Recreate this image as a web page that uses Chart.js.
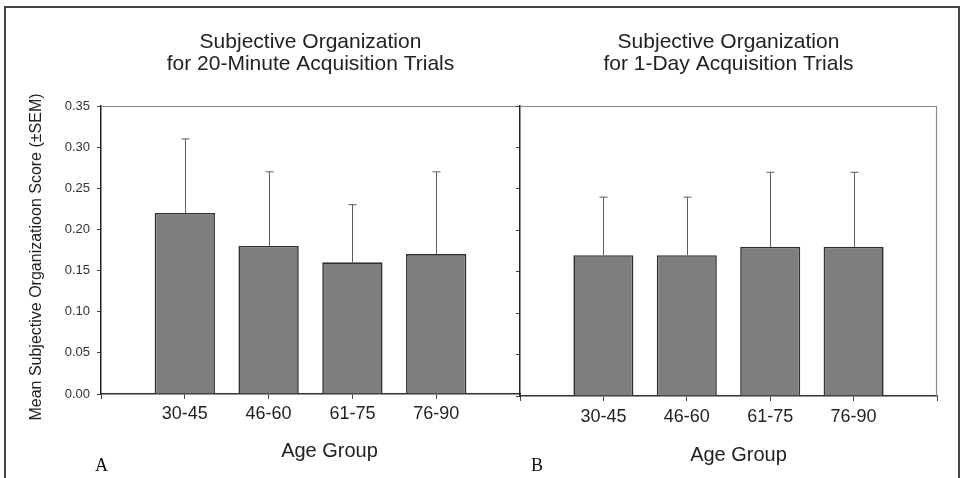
<!DOCTYPE html>
<html><head><meta charset="utf-8">
<script src="https://cdn.jsdelivr.net/npm/chart.js@4/dist/chart.umd.min.js"></script>
<style>
html,body{margin:0;padding:0;background:#fff;width:963px;height:478px;overflow:hidden}
#frame{position:absolute;left:4px;top:6px;width:952px;height:520px;border:2px solid #444;border-bottom:none}
.wrap{position:absolute;top:0;height:478px}
#wa{left:0;width:525px}
#wb{left:500px;width:445px}
.pl{position:absolute;font-family:"Liberation Serif","Times New Roman",serif;font-size:18px;color:#111;line-height:1}
</style></head><body>
<div id="frame"></div>
<div class="wrap" id="wa"><canvas id="ca" width="525" height="478"></canvas></div>
<div class="wrap" id="wb"><canvas id="cb" width="445" height="478"></canvas></div>
<div class="pl" style="left:95px;top:456px">A</div>
<div class="pl" style="left:531px;top:456px">B</div>
<script>
const ageGroups = ['30-45', '46-60', '61-75', '76-90'];
const mean20Min = [0.22, 0.18, 0.16, 0.17];
const sem20Min  = [0.09, 0.09, 0.07, 0.10];
const mean1Day  = [0.17, 0.17, 0.18, 0.18];
const sem1Day   = [0.07, 0.07, 0.09, 0.09];
const yTicks = [0, 0.05, 0.10, 0.15, 0.20, 0.25, 0.30, 0.35];
const titleA = ['Subjective Organization', 'for 20-Minute Acquisition Trials'];
const titleB = ['Subjective Organization', 'for 1-Day Acquisition Trials'];
const yTitle = 'Mean Subjective Organizatioon Score (\u00B1SEM)';
const xTitle = 'Age Group';

const FONT = '"Liberation Sans", Arial, Helvetica, sans-serif';
const pad = arr => [null, ...arr, null];

const errorBars = {
  id: 'errorBars',
  afterDatasetsDraw(chart) {
    const ctx = chart.ctx, ys = chart.scales.y;
    const ds = chart.data.datasets[0];
    const meta = chart.getDatasetMeta(0);
    ctx.save();
    ctx.strokeStyle = '#5c5c5c';
    ctx.lineWidth = 1;
    meta.data.forEach((bar, i) => {
      const m = ds.data[i], e = ds.errors[i];
      if (m == null || e == null) return;
      const x = Math.round(bar.x) + 0.5;
      const yTop = ys.getPixelForValue(m + e);
      ctx.beginPath();
      ctx.moveTo(x, bar.y);
      ctx.lineTo(x, yTop);
      ctx.moveTo(x - 4, yTop);
      ctx.lineTo(x + 4, yTop);
      ctx.stroke();
    });
    ctx.restore();
  }
};

const plotFrame = {
  id: 'plotFrame',
  afterDraw(chart, args, opts) {
    const {ctx, chartArea: a} = chart;
    ctx.save();
    ctx.strokeStyle = '#8a8a8a';
    ctx.lineWidth = 1.2;
    ctx.beginPath();
    ctx.moveTo(a.left, a.top + 0.5);
    ctx.lineTo(a.right, a.top + 0.5);
    if (opts.right) {
      ctx.moveTo(a.right - 0.5, a.top);
      ctx.lineTo(a.right - 0.5, a.bottom);
    }
    ctx.stroke();
    ctx.restore();
  }
};

const axisTitles = {
  id: 'axisTitles',
  afterDraw(chart, args, o) {
    const {ctx, chartArea: a} = chart;
    ctx.save();
    ctx.fillStyle = '#222';
    ctx.textAlign = 'center';
    ctx.textBaseline = 'middle';
    ctx.font = '20px ' + FONT;
    ctx.fillText(o.xText, (a.left + a.right) / 2 + o.xdx, o.xy);
    if (o.yText) {
      ctx.font = '16px ' + FONT;
      ctx.translate(o.yx, (a.top + a.bottom) / 2 + o.ydy);
      ctx.rotate(-Math.PI / 2);
      ctx.fillText(o.yText, 0, 0);
    }
    ctx.restore();
  }
};

function makeChart(id, title, means, sems, cfg) {
  return new Chart(document.getElementById(id), {
    type: 'bar',
    data: {
      labels: ['', ...ageGroups, ''],
      datasets: [{
        data: pad(means),
        errors: pad(sems),
        backgroundColor: '#7e7e7e',
        borderColor: '#303030',
        borderWidth: 1.6,
        barPercentage: 0.72,
        categoryPercentage: 1
      }]
    },
    options: {
      responsive: false,
      animation: false,
      layout: {padding: {left: 0, right: cfg.padRight, top: 0, bottom: 0}},
      plugins: {
        legend: {display: false},
        tooltip: {enabled: false},
        title: {
          display: true, text: title, fullSize: false, color: '#222',
          font: {family: FONT, size: 21, weight: 'normal', lineHeight: 22 / 21},
          padding: {top: 31, bottom: 31}
        },
        plotFrame: {right: cfg.frameRight},
        axisTitles: {xText: xTitle, xdx: cfg.xdx, xy: cfg.xy, yText: cfg.yLabels ? yTitle : null, yx: 37, ydy: 7}
      },
      scales: {
        x: {
          type: 'category',
          offset: false,
          afterFit: s => { s.height = cfg.xHeight; },
          grid: {display: true, drawOnChartArea: false, drawTicks: true, tickLength: 5, offset: false, color: '#444'},
          border: {display: true, color: '#333', width: 1.5},
          ticks: {autoSkip: false, maxRotation: 0, padding: cfg.xTickPad, color: '#222', font: {family: FONT, size: 18}}
        },
        y: {
          min: 0, max: 0.35,
          afterFit: s => { s.width = cfg.yWidth; },
          afterBuildTicks: s => { s.ticks = yTicks.map(v => ({value: v})); },
          grid: {display: true, drawOnChartArea: false, drawTicks: true, tickLength: 4, color: '#444'},
          border: {display: true, color: '#222', width: 1.5},
          ticks: {display: cfg.yLabels, padding: 7, color: '#333', font: {family: FONT, size: 13}, callback: v => Number(v).toFixed(2)}
        }
      }
    },
    plugins: [errorBars, plotFrame, axisTitles]
  });
}

makeChart('ca', titleA, mean20Min, sem20Min, {padRight: 5, xHeight: 84, xTickPad: 4, xdx: 19, xy: 451, yWidth: 101, yLabels: true, frameRight: false});
makeChart('cb', titleB, mean1Day, sem1Day, {padRight: 8, xHeight: 82, xTickPad: 5, xdx: 10, xy: 455, yWidth: 20, yLabels: false, frameRight: true});
</script>
</body></html>
